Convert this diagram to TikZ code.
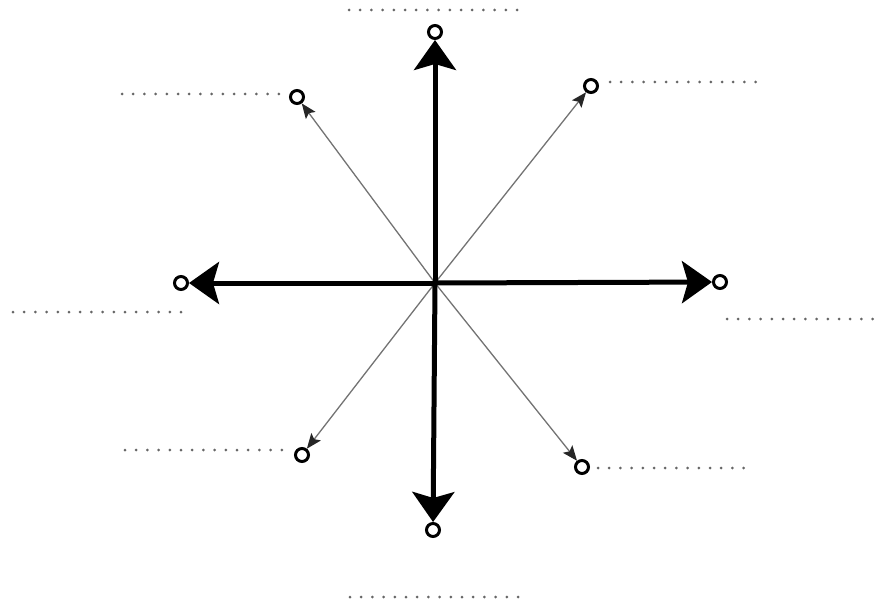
\documentclass[tikz,border=0pt]{standalone}
\usetikzlibrary{arrows.meta}
\begin{document}
\begin{tikzpicture}[x=1pt,y=-1pt,
  endpt/.style={circle,draw=black,fill=white,line width=3pt,minimum size=13pt,inner sep=0pt},
  bigarrow/.style={line width=5pt,-{Stealth[length=30pt,width=42pt,inset=6pt]}},
  thinarrow/.style={draw=black!55,line width=1.3pt,-{Stealth[length=15pt,width=12pt,inset=3pt,color=black!85]}},
  dotline/.style={draw=black!60,line width=3pt,line cap=round,dash pattern=on 0pt off 11.2pt}]
\useasboundingbox (0,0) rectangle (887,602);
\coordinate (c) at (435,283);
\node[endpt] (n) at (435,32) {};
\node[endpt] (s) at (433,530) {};
\node[endpt] (w) at (181,283) {};
\node[endpt] (e) at (720,282) {};
\node[endpt] (nw) at (297,97) {};
\node[endpt] (ne) at (591,86) {};
\node[endpt] (sw) at (302,455) {};
\node[endpt] (se) at (582,467) {};
\draw[thinarrow] (c) -- (nw);
\draw[thinarrow] (c) -- (ne);
\draw[thinarrow] (c) -- (sw);
\draw[thinarrow] (c) -- (se);
\draw[bigarrow] (c) -- (n);
\draw[bigarrow] (c) -- (s);
\draw[bigarrow] (c) -- (w);
\draw[bigarrow] (c) -- (e);
\draw[dotline] (349,10) -- (527,10);
\draw[dotline] (122,94) -- (286,94);
\draw[dotline] (610,82) -- (764,82);
\draw[dotline] (13,312) -- (190,312);
\draw[dotline] (727,319) -- (879,319);
\draw[dotline] (125,450) -- (290,450);
\draw[dotline] (598,468) -- (752,468);
\draw[dotline] (350,597) -- (523,597);
\end{tikzpicture}
\end{document}
